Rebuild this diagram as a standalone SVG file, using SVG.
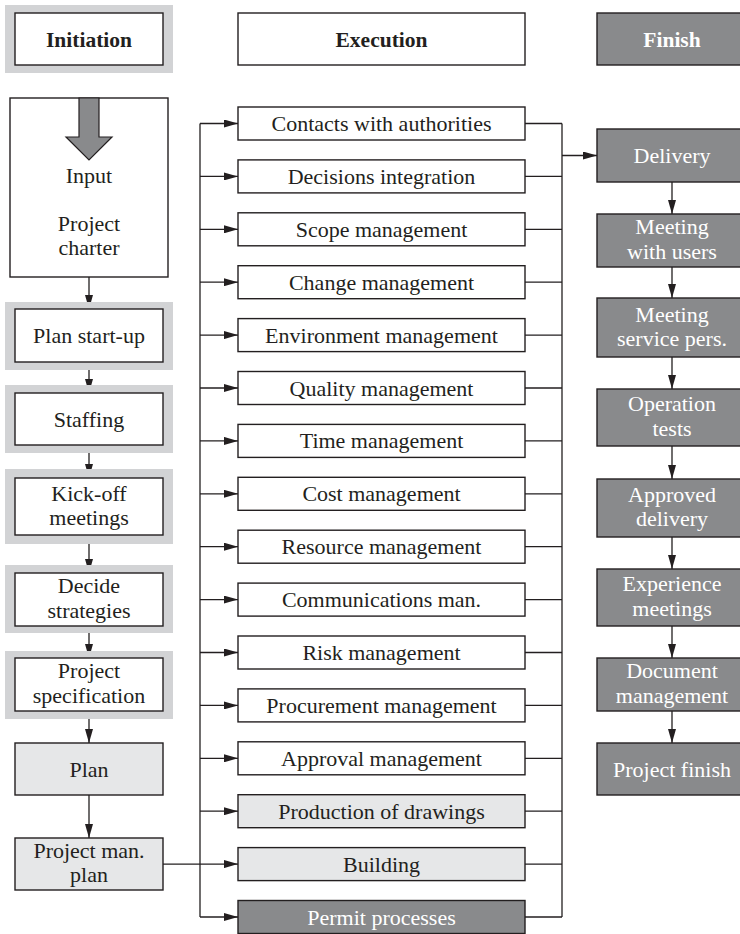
<svg xmlns="http://www.w3.org/2000/svg" width="740" height="934" viewBox="0 0 740 934">
<style>
text{font-family:"Liberation Serif","Times New Roman",serif;font-size:22px;fill:#231f20;text-anchor:middle}
.b{font-weight:bold;font-size:21.5px}
.w{fill:#ffffff}
.box{fill:#ffffff;stroke:#231f20;stroke-width:1.4}
.lt{fill:#e6e7e8;stroke:#231f20;stroke-width:1.4}
.dk{fill:#898a8c;stroke:#231f20;stroke-width:1.4}
.halo{fill:#d2d3d5}
.ln{fill:none;stroke:#231f20;stroke-width:1.3}
.ar{fill:none;stroke:#231f20;stroke-width:1.3;marker-end:url(#ah)}
</style>
<defs>
<marker id="ah" markerUnits="userSpaceOnUse" markerWidth="14" markerHeight="8" refX="14" refY="4" orient="auto">
<path d="M0,0 L14,4 L0,8 z" fill="#231f20"/>
</marker>
</defs>
<rect width="740" height="934" fill="#ffffff"/>

<g id="connectors">
<path class="ln" d="M200,123.5 V917"/>
<path class="ar" d="M200,123.5 H238"/>
<path class="ar" d="M200,176.4 H238"/>
<path class="ar" d="M200,229.3 H238"/>
<path class="ar" d="M200,282.2 H238"/>
<path class="ar" d="M200,335.1 H238"/>
<path class="ar" d="M200,388 H238"/>
<path class="ar" d="M200,440.9 H238"/>
<path class="ar" d="M200,493.8 H238"/>
<path class="ar" d="M200,546.7 H238"/>
<path class="ar" d="M200,599.6 H238"/>
<path class="ar" d="M200,652.5 H238"/>
<path class="ar" d="M200,705.4 H238"/>
<path class="ar" d="M200,758.3 H238"/>
<path class="ar" d="M200,811.2 H238"/>
<path class="ar" d="M163,864.1 H238"/>
<path class="ar" d="M200,917 H238"/>
<path class="ln" d="M562,123.5 V917"/>
<path class="ln" d="M525,123.5 H562 M525,176.4 H562 M525,229.3 H562 M525,282.2 H562 M525,335.1 H562 M525,388 H562 M525,440.9 H562 M525,493.8 H562 M525,546.7 H562 M525,599.6 H562 M525,652.5 H562 M525,705.4 H562 M525,758.3 H562 M525,811.2 H562 M525,864.1 H562 M525,917 H562"/>
<path class="ar" d="M562,155.5 H597"/>
<path class="ar" d="M89,277 V309"/>
<path class="ar" d="M89,362 V393"/>
<path class="ar" d="M89,445 V478"/>
<path class="ar" d="M89,535 V573"/>
<path class="ar" d="M89,626 V658"/>
<path class="ar" d="M89,711 V743"/>
<path class="ar" d="M89,795 V838"/>
<path class="ar" d="M672,182 V214"/>
<path class="ar" d="M672,267 V298"/>
<path class="ar" d="M672,357 V389"/>
<path class="ar" d="M672,446 V479"/>
<path class="ar" d="M672,537 V569"/>
<path class="ar" d="M672,626 V658"/>
<path class="ar" d="M672,711 V743"/>
</g>

<g id="hdr-initiation">
<rect class="halo" x="5" y="5" width="168" height="68"/>
<rect class="box" x="15" y="13" width="148" height="52"/>
<text class="b" x="89" y="46.5">Initiation</text>
</g>
<g id="hdr-execution">
<rect class="box" x="238" y="13" width="287" height="52"/>
<text class="b" x="381.5" y="46.5">Execution</text>
</g>
<g id="hdr-finish">
<rect class="dk" x="597" y="13" width="150" height="52"/>
<text class="b w" x="672" y="46.5">Finish</text>
</g>

<g id="input">
<rect class="box" x="10" y="98" width="158" height="179"/>
<polygon points="79,98 99,98 99,137 112,137 89,160 66,137 79,137" fill="#898a8c" stroke="#231f20" stroke-width="1.2"/>
<text x="89" y="183">Input</text>
<text x="89" y="231">Project</text>
<text x="89" y="255">charter</text>
</g>
<g id="plan-startup">
<rect class="halo" x="5" y="302" width="168" height="68"/>
<rect class="box" x="15" y="309" width="148" height="53"/>
<text x="89" y="343">Plan start-up</text>
</g>
<g id="staffing">
<rect class="halo" x="5" y="385" width="168" height="68"/>
<rect class="box" x="15" y="393" width="148" height="52"/>
<text x="89" y="426.5">Staffing</text>
</g>
<g id="kickoff">
<rect class="halo" x="5" y="469" width="168" height="75"/>
<rect class="box" x="15" y="478" width="148" height="57"/>
<text x="89" y="500.5">Kick-off</text>
<text x="89" y="525">meetings</text>
</g>
<g id="decide">
<rect class="halo" x="5" y="565" width="168" height="68"/>
<rect class="box" x="15" y="573" width="148" height="53"/>
<text x="89" y="593">Decide</text>
<text x="89" y="617.5">strategies</text>
</g>
<g id="spec">
<rect class="halo" x="5" y="651" width="168" height="68"/>
<rect class="box" x="15" y="658" width="148" height="53"/>
<text x="89" y="678">Project</text>
<text x="89" y="702.5">specification</text>
</g>
<g id="plan">
<rect class="lt" x="15" y="743" width="148" height="52"/>
<text x="89" y="776.5">Plan</text>
</g>
<g id="pm-plan">
<rect class="lt" x="15" y="838" width="148" height="52"/>
<text x="89" y="857.5">Project man.</text>
<text x="89" y="882">plan</text>
</g>

<g id="ex-contacts"><rect class="box" x="238" y="107" width="287" height="33"/><text x="381.5" y="131">Contacts with authorities</text></g>
<g id="ex-decisions"><rect class="box" x="238" y="159.9" width="287" height="33"/><text x="381.5" y="183.9">Decisions integration</text></g>
<g id="ex-scope"><rect class="box" x="238" y="212.8" width="287" height="33"/><text x="381.5" y="236.8">Scope management</text></g>
<g id="ex-change"><rect class="box" x="238" y="265.7" width="287" height="33"/><text x="381.5" y="289.7">Change management</text></g>
<g id="ex-environment"><rect class="box" x="238" y="318.6" width="287" height="33"/><text x="381.5" y="342.6">Environment management</text></g>
<g id="ex-quality"><rect class="box" x="238" y="371.5" width="287" height="33"/><text x="381.5" y="395.5">Quality management</text></g>
<g id="ex-time"><rect class="box" x="238" y="424.4" width="287" height="33"/><text x="381.5" y="448.4">Time management</text></g>
<g id="ex-cost"><rect class="box" x="238" y="477.3" width="287" height="33"/><text x="381.5" y="501.3">Cost management</text></g>
<g id="ex-resource"><rect class="box" x="238" y="530.2" width="287" height="33"/><text x="381.5" y="554.2">Resource management</text></g>
<g id="ex-communications"><rect class="box" x="238" y="583.1" width="287" height="33"/><text x="381.5" y="607.1">Communications man.</text></g>
<g id="ex-risk"><rect class="box" x="238" y="636" width="287" height="33"/><text x="381.5" y="660">Risk management</text></g>
<g id="ex-procurement"><rect class="box" x="238" y="688.9" width="287" height="33"/><text x="381.5" y="712.9">Procurement management</text></g>
<g id="ex-approval"><rect class="box" x="238" y="741.8" width="287" height="33"/><text x="381.5" y="765.8">Approval management</text></g>
<g id="ex-drawings"><rect class="lt" x="238" y="794.7" width="287" height="33"/><text x="381.5" y="818.7">Production of drawings</text></g>
<g id="ex-building"><rect class="lt" x="238" y="847.6" width="287" height="33"/><text x="381.5" y="871.6">Building</text></g>
<g id="ex-permit"><rect class="dk" x="238" y="900.5" width="287" height="33"/><text class="w" x="381.5" y="924.5">Permit processes</text></g>

<g id="fin-delivery"><rect class="dk" x="597" y="129" width="150" height="53"/><text class="w" x="672" y="163">Delivery</text></g>
<g id="fin-users"><rect class="dk" x="597" y="214" width="150" height="53"/><text class="w" x="672" y="234">Meeting</text><text class="w" x="672" y="258.5">with users</text></g>
<g id="fin-service"><rect class="dk" x="597" y="298" width="150" height="59"/><text class="w" x="672" y="321.5">Meeting</text><text class="w" x="672" y="346">service pers.</text></g>
<g id="fin-tests"><rect class="dk" x="597" y="389" width="150" height="57"/><text class="w" x="672" y="411">Operation</text><text class="w" x="672" y="435.5">tests</text></g>
<g id="fin-approved"><rect class="dk" x="597" y="479" width="150" height="58"/><text class="w" x="672" y="501.5">Approved</text><text class="w" x="672" y="526">delivery</text></g>
<g id="fin-experience"><rect class="dk" x="597" y="569" width="150" height="57"/><text class="w" x="672" y="591">Experience</text><text class="w" x="672" y="615.5">meetings</text></g>
<g id="fin-document"><rect class="dk" x="597" y="658" width="150" height="53"/><text class="w" x="672" y="678">Document</text><text class="w" x="672" y="702.5">management</text></g>
<g id="fin-finish"><rect class="dk" x="597" y="743" width="150" height="52"/><text class="w" x="672" y="776.5">Project finish</text></g>
</svg>
